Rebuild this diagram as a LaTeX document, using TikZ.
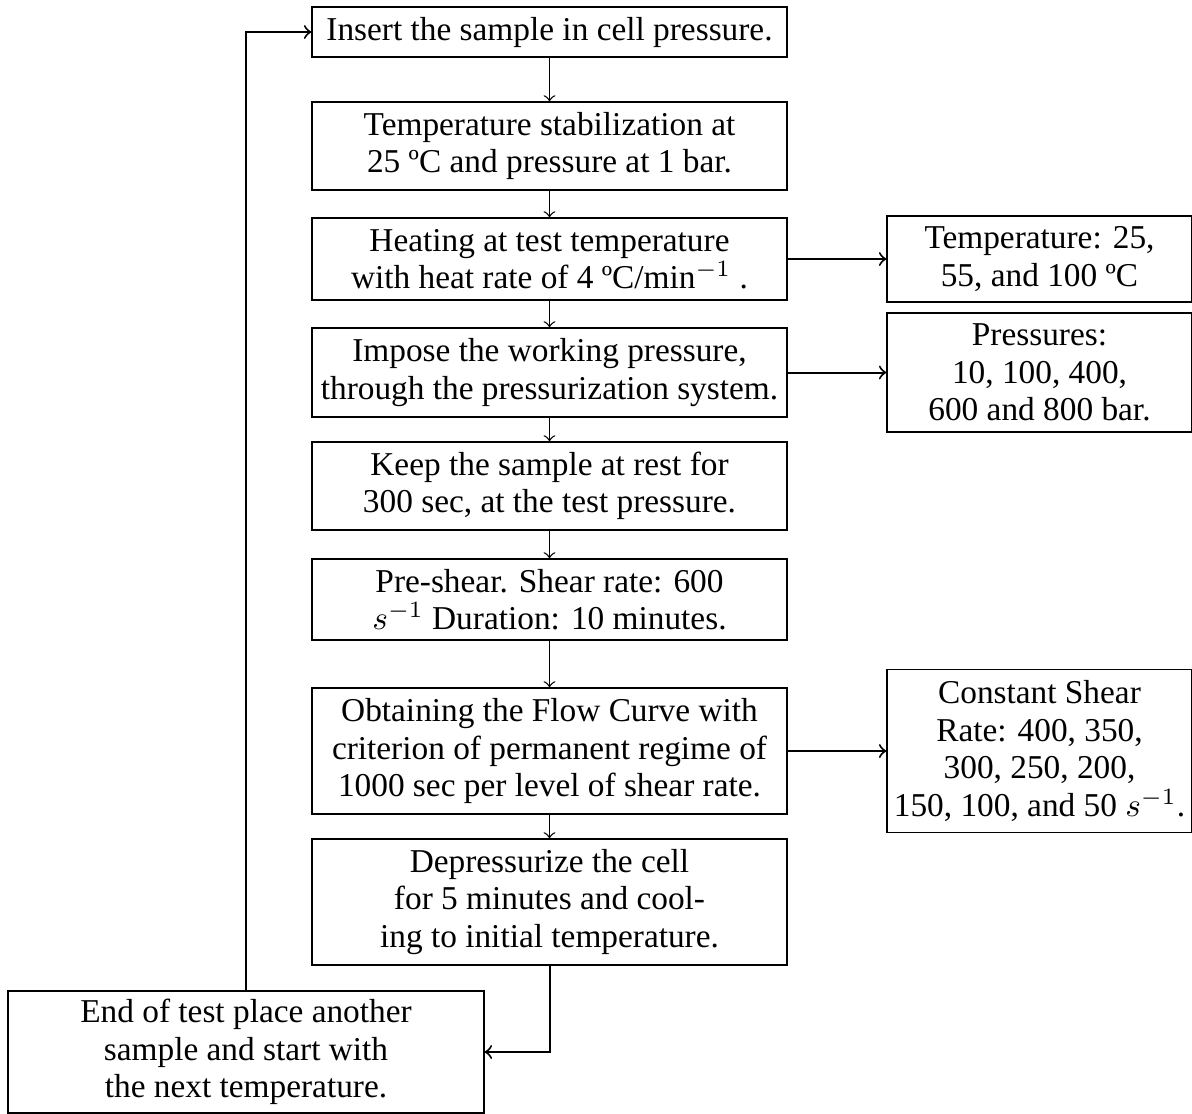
\documentclass[tikz,border=0pt]{standalone}
\usepackage[no-math]{fontspec}
\setmainfont{Liberation Serif}
\begin{document}
\begin{tikzpicture}[x=0.3pt,y=-0.3pt,
  box/.style={draw,line width=0.4pt,align=center,inner xsep=2pt,inner ysep=1pt,font=\fontsize{10pt}{11.25pt}\selectfont},
  mainbox/.style={box,minimum width=142.5pt},
  sidebox/.style={box,minimum width=91.5pt},
  flow/.style={->,line width=0.4pt},
  side/.style={->,line width=0.6pt},
  loop/.style={->,line width=0.6pt}]
\useasboundingbox (0,0) rectangle (1192,1113);
\node[mainbox,minimum height=15pt] (b1) at (549.5,32) {Insert the sample in cell pressure.};
\node[mainbox,minimum height=26.4pt] (b2) at (549.5,146) {Temperature stabilization at\\25 ºC and pressure at 1 bar.};
\node[mainbox,minimum height=24.6pt] (b3) at (549.5,259) {Heating at test temperature\\with heat rate of 4 ºC/min$^{-1}$ .};
\node[mainbox,minimum height=26.7pt] (b4) at (549.5,372.5) {Impose the working pressure,\\through the pressurization system.};
\node[mainbox,minimum height=26.4pt] (b5) at (549.5,486) {Keep the sample at rest for\\300 sec, at the test pressure.};
\node[mainbox,minimum height=24.3pt] (b6) at (549.5,599.5) {Pre-shear. Shear rate: 600\\$s^{-1}$ Duration: 10 minutes.};
\node[mainbox,minimum height=37.8pt] (b7) at (549.5,751) {Obtaining the Flow Curve with\\criterion of permanent regime of\\1000 sec per level of shear rate.};
\node[mainbox,minimum height=37.8pt] (b8) at (549.5,902) {Depressurize the cell\\for 5 minutes and cool-\\ing to initial temperature.};
\node[box,minimum width=142.8pt,minimum height=36.6pt] (b9) at (246,1052) {End of test place another\\sample and start with\\the next temperature.};
\node[sidebox,minimum height=25.8pt] (r1) at (1039.5,259) {Temperature: 25,\\55, and 100 ºC};
\node[sidebox,minimum height=35.7pt] (r2) at (1039.5,372.5) {Pressures:\\10, 100, 400,\\600 and 800 bar.};
\node[sidebox,minimum height=48.9pt] (r3) at (1039.5,751) {Constant Shear\\Rate: 400, 350,\\300, 250, 200,\\150, 100, and 50 $s^{-1}$.};
\draw[flow] (b1) -- (b2);
\draw[flow] (b2) -- (b3);
\draw[flow] (b3) -- (b4);
\draw[flow] (b4) -- (b5);
\draw[flow] (b5) -- (b6);
\draw[flow] (b6) -- (b7);
\draw[flow] (b7) -- (b8);
\draw[side] (b3) -- (r1);
\draw[side] (b4) -- (r2);
\draw[side] (b7) -- (r3);
\draw[loop] (b8.south) |- (b9.east);
\draw[loop] (b9.north) |- (b1.west);
\end{tikzpicture}
\end{document}
